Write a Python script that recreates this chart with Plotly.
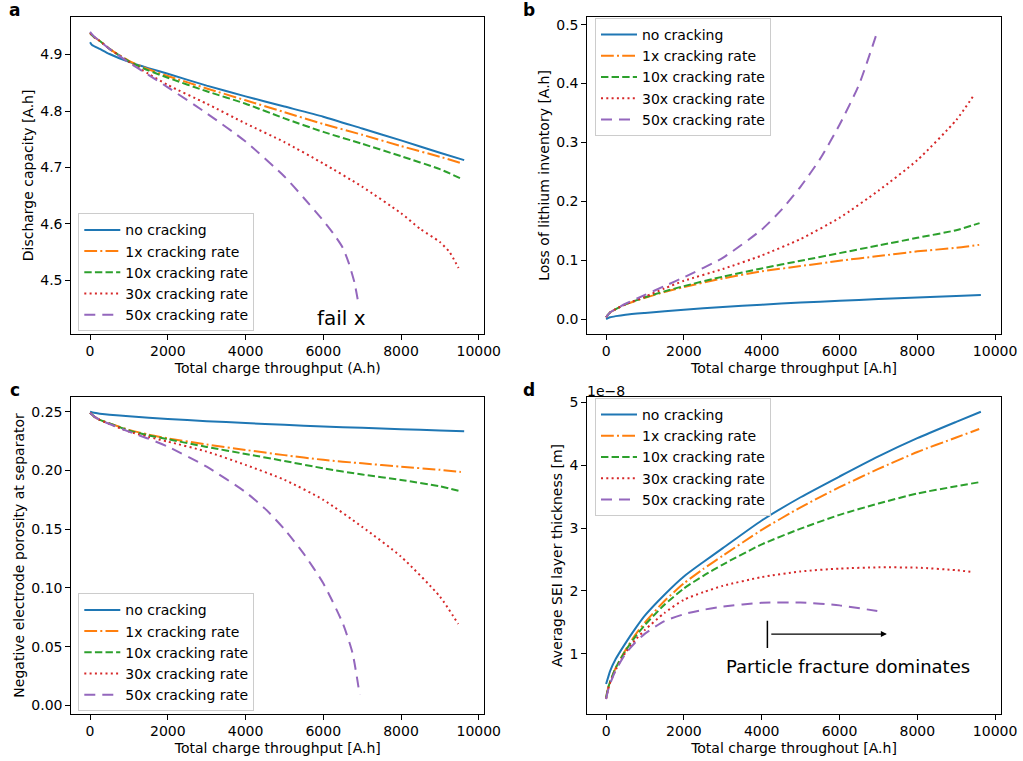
import plotly.graph_objects as go

W, H = 1023, 761
names = ["no cracking", "1x cracking rate", "10x cracking rate", "30x cracking rate", "50x cracking rate"]
colors = ["#1f77b4", "#ff7f0e", "#2ca02c", "#d62728", "#9467bd"]
dashes = ["solid", "12.8px,3.2px,2px,3.2px", "7.4px,3.2px", "2px,3.3px", "11px,7px"]

# ---------- panel a : discharge capacity [A.h] ----------
a_x = [
    [0, 50, 250, 500, 1000, 1500, 2000, 3000, 4000, 5000, 6000, 7000, 8000, 9000, 9625],
    [0, 100, 250, 500, 1000, 1500, 2000, 3000, 4000, 5000, 6000, 7000, 8000, 9000, 9540],
    [0, 100, 250, 500, 1000, 1500, 2000, 3000, 4000, 5000, 6000, 7000, 8000, 9000, 9556],
    [0, 100, 250, 500, 1000, 1500, 2000, 3000, 4000, 5000, 6000, 7000, 8000, 8500, 9000, 9250, 9480],
    [0, 100, 250, 500, 1000, 1500, 2000, 3000, 4000, 5000, 5500, 6000, 6250, 6500, 6650, 6800, 6910],
]
a_y = [
    [4.922, 4.917, 4.910, 4.901, 4.887, 4.876, 4.866, 4.845, 4.826, 4.808, 4.790, 4.769, 4.748, 4.726, 4.713],
    [4.938, 4.931, 4.924, 4.910, 4.889, 4.874, 4.862, 4.840, 4.819, 4.798, 4.777, 4.758, 4.738, 4.719, 4.708],
    [4.938, 4.931, 4.924, 4.910, 4.888, 4.872, 4.859, 4.835, 4.813, 4.787, 4.763, 4.742, 4.720, 4.697, 4.680],
    [4.938, 4.931, 4.924, 4.910, 4.887, 4.866, 4.846, 4.813, 4.778, 4.745, 4.707, 4.666, 4.619, 4.591, 4.568, 4.550, 4.522],
    [4.940, 4.932, 4.924, 4.910, 4.886, 4.864, 4.842, 4.796, 4.746, 4.684, 4.646, 4.606, 4.584, 4.558, 4.532, 4.497, 4.457],
]

# ---------- panel b : loss of lithium inventory [A.h] ----------
b_x = [
    [0, 100, 250, 500, 1000, 2000, 3000, 4000, 5000, 6000, 7000, 8000, 9000, 9633],
    [0, 100, 250, 500, 1000, 1500, 2000, 3000, 4000, 5000, 6000, 7000, 8000, 9000, 9590],
    [0, 100, 250, 500, 1000, 1500, 2000, 3000, 4000, 5000, 6000, 7000, 8000, 9000, 9600],
    [0, 100, 250, 500, 1000, 1500, 2000, 3000, 4000, 5000, 6000, 7000, 8000, 9000, 9471],
    [0, 100, 250, 500, 1000, 1500, 2000, 3000, 4000, 4500, 5000, 5500, 6000, 6500, 6971],
]
b_y = [
    [0.0, 0.003, 0.005, 0.0075, 0.0105, 0.0158, 0.0205, 0.0245, 0.028, 0.031, 0.034, 0.0368, 0.0393, 0.041],
    [0.003, 0.011, 0.017, 0.025, 0.036, 0.046, 0.0545, 0.069, 0.081, 0.090, 0.099, 0.107, 0.115, 0.121, 0.126],
    [0.003, 0.011, 0.017, 0.025, 0.037, 0.047, 0.056, 0.072, 0.086, 0.099, 0.112, 0.125, 0.138, 0.151, 0.163],
    [0.003, 0.011, 0.017, 0.025, 0.038, 0.052, 0.065, 0.085, 0.108, 0.136, 0.172, 0.218, 0.270, 0.338, 0.382],
    [0.003, 0.011, 0.017, 0.026, 0.041, 0.056, 0.071, 0.104, 0.152, 0.185, 0.225, 0.272, 0.330, 0.398, 0.488],
]

# ---------- panel c : negative electrode porosity at separator ----------
c_x = [
    [0, 100, 250, 500, 1000, 2000, 3000, 4000, 5000, 6000, 7000, 8000, 9000, 9625],
    [0, 100, 250, 500, 1000, 1500, 2000, 3000, 4000, 5000, 6000, 7000, 8000, 9000, 9540],
    [0, 100, 250, 500, 1000, 1500, 2000, 3000, 4000, 5000, 6000, 7000, 8000, 9000, 9556],
    [0, 100, 250, 500, 1000, 1500, 2000, 3000, 4000, 5000, 6000, 7000, 8000, 9000, 9471],
    [0, 100, 250, 500, 1000, 1500, 2000, 3000, 4000, 4500, 5000, 5500, 6000, 6500, 6750, 6937],
]
c_y = [
    [0.250, 0.2490, 0.2483, 0.2474, 0.2460, 0.2438, 0.2419, 0.2403, 0.2388, 0.2374, 0.2362, 0.2350, 0.2340, 0.2333],
    [0.249, 0.246, 0.243, 0.240, 0.2345, 0.2305, 0.2273, 0.222, 0.2174, 0.213, 0.209, 0.206, 0.2032, 0.2005, 0.1987],
    [0.249, 0.246, 0.243, 0.240, 0.234, 0.2298, 0.2265, 0.220, 0.214, 0.208, 0.2018, 0.1965, 0.1919, 0.1865, 0.182],
    [0.249, 0.246, 0.243, 0.2395, 0.233, 0.2285, 0.2245, 0.216, 0.2047, 0.192, 0.175, 0.152, 0.1267, 0.0927, 0.0694],
    [0.249, 0.246, 0.243, 0.2395, 0.233, 0.227, 0.2202, 0.2032, 0.1815, 0.1675, 0.1500, 0.129, 0.104, 0.070, 0.045, 0.0091],
]

# ---------- panel d : average SEI layer thickness [1e-8 m] ----------
d_x = [
    [0, 50, 100, 250, 500, 750, 1000, 1500, 2000, 2500, 3000, 4000, 5000, 6000, 7000, 8000, 9000, 9633],
    [0, 50, 100, 250, 500, 750, 1000, 1500, 2000, 2500, 3000, 4000, 5000, 6000, 7000, 8000, 9000, 9590],
    [0, 50, 100, 250, 500, 750, 1000, 1500, 2000, 2500, 3000, 4000, 5000, 6000, 7000, 8000, 9000, 9600],
    [0, 50, 100, 250, 500, 750, 1000, 1500, 2000, 2500, 3000, 4000, 5000, 6000, 7000, 8000, 9000, 9430],
    [0, 50, 100, 250, 500, 750, 1000, 1500, 2000, 2500, 3000, 4000, 5000, 6000, 6971],
]
d_y = [
    [0.52, 0.62, 0.72, 0.92, 1.17, 1.40, 1.61, 1.94, 2.23, 2.46, 2.68, 3.12, 3.49, 3.82, 4.14, 4.43, 4.69, 4.85],
    [0.30, 0.45, 0.55, 0.78, 1.06, 1.30, 1.50, 1.84, 2.12, 2.35, 2.56, 2.97, 3.33, 3.65, 3.94, 4.21, 4.44, 4.575],
    [0.30, 0.45, 0.55, 0.78, 1.05, 1.27, 1.46, 1.78, 2.04, 2.24, 2.42, 2.74, 2.99, 3.21, 3.39, 3.55, 3.665, 3.73],
    [0.28, 0.43, 0.53, 0.75, 1.02, 1.22, 1.38, 1.65, 1.86, 1.98, 2.08, 2.22, 2.31, 2.355, 2.375, 2.37, 2.33, 2.30],
    [0.28, 0.42, 0.52, 0.74, 1.00, 1.18, 1.32, 1.52, 1.63, 1.70, 1.75, 1.81, 1.815, 1.77, 1.68],
]

x_ticks = [0, 2000, 4000, 6000, 8000, 10000]
a_yticks = [4.5, 4.6, 4.7, 4.8, 4.9]
b_yticks = [0.0, 0.1, 0.2, 0.3, 0.4, 0.5]
c_yticks = [0.00, 0.05, 0.10, 0.15, 0.20, 0.25]
d_yticks = [1, 2, 3, 4, 5]

FONT = "DejaVu Sans"


def px_x(p):
    return p / W


def px_y(p):
    return 1 - p / H


fig = go.Figure()

panels = [
    (a_x, a_y, "x", "y", "legend"),
    (b_x, b_y, "x2", "y2", "legend2"),
    (c_x, c_y, "x3", "y3", "legend3"),
    (d_x, d_y, "x4", "y4", "legend4"),
]
for xs, ys, xa, ya, lg in panels:
    for i in range(5):
        fig.add_trace(go.Scatter(
            x=xs[i], y=ys[i], mode="lines", name=names[i],
            line=dict(color=colors[i], width=2, dash=dashes[i], shape="spline", smoothing=0.6),
            xaxis=xa, yaxis=ya, legend=lg, showlegend=True,
        ))

# axis domains (from pixel boxes)
left_dom = [px_x(71.3), px_x(484.3)]
right_dom = [px_x(587.3), px_x(1000.7)]
top_dom = [px_y(333.5), px_y(17.3)]
bot_dom = [px_y(713.5), px_y(397.3)]


def xax(domain, anchor, title):
    return dict(domain=domain, anchor=anchor, range=[-483, 10143], tickvals=x_ticks, tickformat="d",
                ticks="outside", ticklen=5, tickwidth=1, tickcolor="black",
                showline=True, linecolor="black", linewidth=1, mirror=True,
                showgrid=False, zeroline=False, automargin=False,
                tickfont=dict(family=FONT, size=14, color="black"),
                title=dict(text=title, font=dict(family=FONT, size=14, color="black"), standoff=4))


def yax(domain, anchor, rng, ticks, fmt, title):
    return dict(domain=domain, anchor=anchor, range=rng, tickvals=ticks, tickformat=fmt,
                ticks="outside", ticklen=5, tickwidth=1, tickcolor="black",
                showline=True, linecolor="black", linewidth=1, mirror=True,
                showgrid=False, zeroline=False, automargin=False,
                tickfont=dict(family=FONT, size=14, color="black"),
                title=dict(text=title, font=dict(family=FONT, size=14, color="black"), standoff=3))


def leg(xp, yp):
    return dict(x=px_x(xp), y=px_y(yp - 6), xanchor="left", yanchor="top",
                bgcolor="rgba(255,255,255,0.8)", bordercolor="#cccccc", borderwidth=1,
                font=dict(family=FONT, size=14, color="black"), itemwidth=36,
                tracegroupgap=0)


fig.update_layout(
    template="none",
    width=W, height=H, margin=dict(l=0, r=0, t=0, b=0, autoexpand=False),
    paper_bgcolor="white", plot_bgcolor="white",
    font=dict(family=FONT, size=14, color="black"),
    xaxis=xax(left_dom, "y", "Total charge throughput (A.h)"),
    yaxis=yax(top_dom, "x", [4.406, 4.966], a_yticks, ".1f", "Discharge capacity [A.h]"),
    xaxis2=xax(right_dom, "y2", "Total charge throughput [A.h]"),
    yaxis2=yax(top_dom, "x2", [-0.0245, 0.5125], b_yticks, ".1f", "Loss of lithium inventory [A.h]"),
    xaxis3=xax(left_dom, "y3", "Total charge throughput [A.h]"),
    yaxis3=yax(bot_dom, "x3", [-0.0068, 0.2622], c_yticks, ".2f", "Negative electrode porosity at separator"),
    xaxis4=xax(right_dom, "y4", "Total charge throughout [A.h]"),
    yaxis4=yax(bot_dom, "x4", [0.05, 5.08], d_yticks, "d", "Average SEI layer thickness [m]"),
    legend=leg(78.3, 219.3),
    legend2=leg(595, 24),
    legend3=leg(78.3, 599.3),
    legend4=leg(595, 404),
)

anns = []
for lab, xp, yp in [("a", 14.5, 9.5), ("b", 528.5, 9.5), ("c", 14.5, 389.5), ("d", 528.5, 389.5)]:
    anns.append(dict(text="<b>%s</b>" % lab, x=px_x(xp), y=px_y(yp), xref="paper", yref="paper",
                     xanchor="center", yanchor="middle", showarrow=False,
                     font=dict(family=FONT, size=17, color="black")))
anns.append(dict(text="1e\u22128", x=px_x(585), y=px_y(390.5), xref="paper", yref="paper",
                 xanchor="left", yanchor="middle", showarrow=False,
                 font=dict(family=FONT, size=14, color="black")))
anns.append(dict(text="fail x", x=6476, y=4.434, xref="x", yref="y", xanchor="center", yanchor="middle",
                 showarrow=False, font=dict(family=FONT, size=20, color="black")))
anns.append(dict(text="Particle fracture dominates", x=6212, y=0.80, xref="x4", yref="y4",
                 xanchor="center", yanchor="middle", showarrow=False,
                 font=dict(family=FONT, size=18, color="black")))
anns.append(dict(text="", x=7218, y=1.313, ax=4208, ay=1.313, xref="x4", yref="y4", axref="x4", ayref="y4",
                 showarrow=True, arrowhead=2, arrowsize=1, arrowwidth=1.2, arrowcolor="black"))
fig.update_layout(annotations=anns)

fig.add_shape(type="line", x0=4146, x1=4146, y0=1.09, y1=1.525, xref="x4", yref="y4",
              line=dict(color="black", width=1.5))

fig.write_html("out.html")
